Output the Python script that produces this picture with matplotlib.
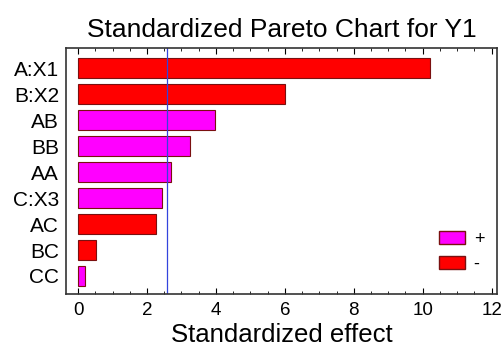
import matplotlib.pyplot as plt
from matplotlib.ticker import MultipleLocator
from matplotlib.patches import Patch

plt.rcParams['font.family'] = ['Liberation Sans', 'DejaVu Sans']

# Efectos estandarizados
terminos = ["A:X1", "B:X2", "AB", "BB", "AA", "C:X3", "AC", "BC", "CC"]
efectos = [10.2, 6.0, 3.98, 3.25, 2.70, 2.43, 2.25, 0.51, 0.19]
signos = ["-", "-", "+", "+", "+", "+", "-", "-", "+"]
limite = 2.57

colores = {"+": "#ff00ff", "-": "#ff0000"}

fig = plt.figure(figsize=(5.01, 3.58), dpi=100)
ax = fig.add_axes([0.1317, 0.179, 0.860, 0.687])

pos = list(range(len(terminos)))
ax.barh(pos, efectos, height=0.77, color=[colores[s] for s in signos],
        edgecolor="#7a1010", linewidth=0.8)
ax.axvline(limite, color="#3344dd", linewidth=0.9)

ax.set_yticks(pos)
ax.set_yticklabels(terminos, fontsize=15)
ax.set_ylim(8.69, -0.78)
ax.set_xlim(-0.35, 12.15)
ax.xaxis.set_major_locator(MultipleLocator(2))
ax.xaxis.set_minor_locator(MultipleLocator(0.5))
ax.tick_params(axis="x", which="both", direction="in", top=True, labelsize=13.5)
ax.tick_params(axis="x", which="major", length=4, pad=6)
ax.tick_params(axis="x", which="minor", length=2.5)
ax.tick_params(axis="y", length=0, pad=5)
for s in ax.spines.values():
    s.set_linewidth(1.2)
    s.set_color("#333333")

ax.set_title("Standardized Pareto Chart for Y1", fontsize=19, pad=8)
ax.set_xlabel("Standardized effect", fontsize=18.5, labelpad=3)

leyenda = [Patch(facecolor=colores["+"], edgecolor="#7a1010", label="+"),
           Patch(facecolor=colores["-"], edgecolor="#7a1010", label="-")]
ax.legend(handles=leyenda, loc="lower right", frameon=False, fontsize=13,
          handlelength=1.4, handleheight=0.75, handletextpad=0.5,
          labelspacing=0.45, borderaxespad=0.3, bbox_to_anchor=(1.0, 0.035))

plt.savefig("out.png")
